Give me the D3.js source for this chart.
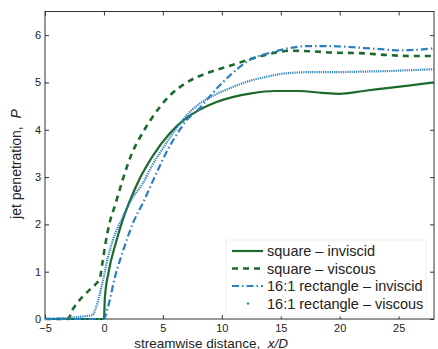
<!DOCTYPE html>
<html>
<head>
<meta charset="utf-8">
<script src="https://cdn.jsdelivr.net/npm/d3@7"></script>
<style>
  body { margin: 0; background: #fff; }
  svg text { font-family: "Liberation Sans", Arial, sans-serif; fill: #222; }
</style>
</head>
<body>
<div id="chart"></div>
<script>
// values
const squareInviscidX = [-5, 0, 0.08, 0.4, 1.0, 1.6, 2.2, 3.0, 4.15, 5.5, 7.0, 8.1, 9.5, 10.9, 12.5, 14.5, 16.5, 18.5, 20.0, 22, 24, 26, 28];
const squareInviscidP = [0, 0, 0.45, 1.0, 1.6, 2.1, 2.5, 2.95, 3.45, 3.9, 4.25, 4.42, 4.58, 4.69, 4.77, 4.82, 4.82, 4.78, 4.76, 4.82, 4.88, 4.94, 5.0];

const squareViscousX = [-5, -3.05, -2.7, -2.2, -1.78, -1.2, -0.65, -0.35, -0.15, 0.1, 0.45, 1.0, 1.6, 2.37, 3.2, 4.07, 5.5, 7.03, 9.0, 10.9, 12.5, 14, 15.8, 17.5, 19.5, 21.7, 24, 26, 28];
const squareViscousP = [0, 0, 0.18, 0.36, 0.48, 0.62, 0.75, 0.85, 1.15, 1.55, 2.0, 2.45, 2.95, 3.5, 3.9, 4.25, 4.7, 5.0, 5.22, 5.37, 5.5, 5.6, 5.67, 5.66, 5.63, 5.62, 5.58, 5.56, 5.56];

const rectInviscidX = [-5, 0, 0.34, 0.93, 1.7, 2.5, 3.3, 4.3, 5.4, 6.3, 7.0, 8.1, 9.2, 10.7, 12.4, 14.3, 15.8, 17.5, 18.9, 20.8, 23.1, 25.1, 26.5, 28];
const rectInviscidP = [0, 0, 0.25, 0.88, 1.5, 2.05, 2.45, 3.0, 3.57, 3.95, 4.2, 4.45, 4.77, 5.15, 5.48, 5.64, 5.73, 5.77, 5.77, 5.75, 5.71, 5.68, 5.69, 5.72];

const rectViscousX = [-5, -1.0, -0.6, -0.08, 0.34, 0.76, 1.6, 2.4, 3.3, 4.1, 4.9, 6.0, 7.0, 8.1, 9.5, 10.9, 12.3, 13.8, 15, 16.4, 18, 20, 22, 24, 26, 28];
const rectViscousP = [0, 0.08, 0.3, 0.82, 1.31, 1.67, 2.16, 2.55, 2.87, 3.25, 3.57, 3.98, 4.3, 4.55, 4.75, 4.9, 5.03, 5.12, 5.18, 5.21, 5.22, 5.22, 5.23, 5.24, 5.26, 5.28];

const xTicks = [-5, 0, 5, 10, 15, 20, 25];
const yTicks = [0, 1, 2, 3, 4, 5, 6];
const legendLabels = ["square \u2013 inviscid", "square \u2013 viscous", "16:1 rectangle \u2013 inviscid", "16:1 rectangle \u2013 viscous"];

const width = 438, height = 349;
const margin = { top: 11.5, right: 4, bottom: 30, left: 45 };
const green = "#1d6a2c", blue = "#2a80c0";

const svg = d3.select("#chart").append("svg")
    .attr("width", width)
    .attr("height", height);

const x = d3.scaleLinear().domain([-5, 28]).range([margin.left, width - margin.right]);
const y = d3.scaleLinear().domain([0, 6.5]).range([height - margin.bottom, margin.top]);

// axes, ticks pointing inwards on all four sides
const axisStyle = g => {
    g.select(".domain").remove();
    g.selectAll(".tick line").attr("stroke", "#333");
    g.selectAll(".tick text").style("font-size", "11px").attr("fill", "#222");
};

svg.append("g")
    .attr("transform", `translate(0,${y(0)})`)
    .call(d3.axisBottom(x).tickValues(xTicks).tickSizeInner(-4).tickSizeOuter(0).tickPadding(5))
    .call(axisStyle);
svg.append("g")
    .attr("transform", `translate(0,${y(6.5)})`)
    .call(d3.axisTop(x).tickValues(xTicks).tickSizeInner(-4).tickSizeOuter(0).tickFormat(""))
    .call(axisStyle);
svg.append("g")
    .attr("transform", `translate(${x(-5)},0)`)
    .call(d3.axisLeft(y).tickValues(yTicks).tickFormat(d3.format("d")).tickSizeInner(-4).tickSizeOuter(0).tickPadding(4))
    .call(axisStyle);
svg.append("g")
    .attr("transform", `translate(${x(28)},0)`)
    .call(d3.axisRight(y).tickValues(yTicks).tickSizeInner(-4).tickSizeOuter(0).tickFormat(""))
    .call(axisStyle);

svg.append("rect")
    .attr("x", x(-5)).attr("y", y(6.5))
    .attr("width", x(28) - x(-5)).attr("height", y(0) - y(6.5))
    .attr("fill", "none").attr("stroke", "#333").attr("stroke-width", 1);

// curves
const line = d3.line().x(d => x(d[0])).y(d => y(d[1])).curve(d3.curveMonotoneX);
const zip = (xs, ps) => xs.map((v, i) => [v, ps[i]]);

const series = [
    { pts: zip(squareInviscidX, squareInviscidP), color: green, w: 2.2, dash: null },
    { pts: zip(squareViscousX, squareViscousP), color: green, w: 2.6, dash: "6,5" },
    { pts: zip(rectInviscidX, rectInviscidP), color: blue, w: 2.2, dash: "7,3,1.5,3" },
    { pts: zip(rectViscousX, rectViscousP), color: blue, w: 2.2, dash: "1.2,1" }
];

series.forEach(s => {
    svg.append("path")
        .attr("d", line(s.pts))
        .attr("fill", "none")
        .attr("stroke", s.color)
        .attr("stroke-width", s.w)
        .attr("stroke-dasharray", s.dash);
});

// legend
const legend = svg.append("g");
legend.append("rect")
    .attr("x", 226).attr("y", 240).attr("width", 200).attr("height", 76)
    .attr("fill", "#fff").attr("stroke", "#f0f0f0").attr("stroke-width", 1);

const rowY = [251, 268.5, 286, 303.5];
legendLabels.forEach((lab, i) => {
    const s = series[i];
    if (i < 3) {
        legend.append("line")
            .attr("x1", 232).attr("x2", 263)
            .attr("y1", rowY[i]).attr("y2", rowY[i])
            .attr("stroke", s.color).attr("stroke-width", s.w)
            .attr("stroke-dasharray", s.dash);
    } else {
        legend.append("circle")
            .attr("cx", 248).attr("cy", rowY[i]).attr("r", 1.2)
            .attr("fill", s.color);
    }
    legend.append("text")
        .attr("x", 267).attr("y", rowY[i])
        .attr("dy", "0.35em")
        .style("font-size", "14.5px")
        .text(lab);
});

// axis labels
const xl = svg.append("text")
    .attr("x", 288).attr("y", 347.5)
    .attr("text-anchor", "end")
    .style("font-size", "13.5px");
xl.append("tspan").text("streamwise distance,\u00a0\u00a0");
xl.append("tspan").style("font-style", "italic").text("x/D");

const yl = svg.append("text")
    .attr("transform", "translate(21,164) rotate(-90)")
    .attr("text-anchor", "middle")
    .style("font-size", "14px");
yl.append("tspan").text("jet penetration,\u00a0\u00a0");
yl.append("tspan").style("font-style", "italic").text("P");
</script>
</body>
</html>
